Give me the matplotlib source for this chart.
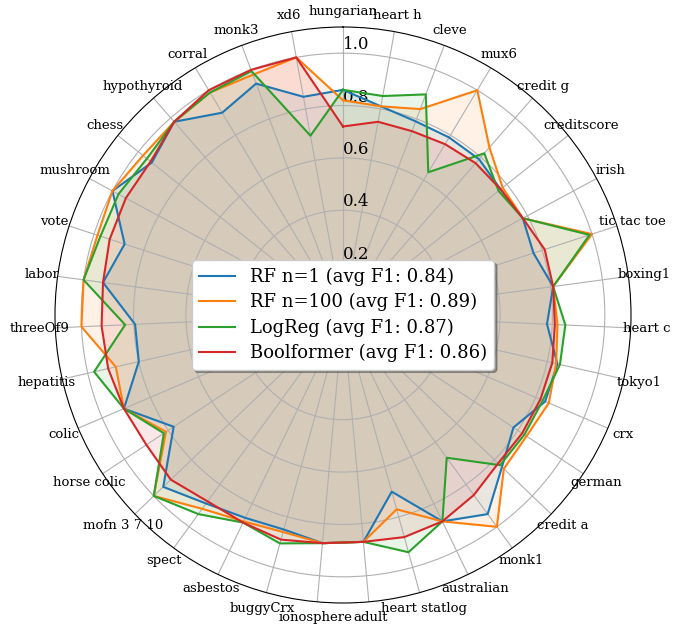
import numpy as np
import matplotlib
matplotlib.use("Agg")
import matplotlib.pyplot as plt

categories = [
    "hungarian", "heart h", "cleve", "mux6", "credit g", "creditscore", "irish",
    "tic tac toe", "boxing1", "heart c", "tokyo1", "crx", "german", "credit a",
    "monk1", "australian", "heart statlog", "adult", "ionosphere", "buggyCrx",
    "asbestos", "spect", "mofn 3 7 10", "horse colic", "colic", "hepatitis",
    "threeOf9", "labor", "vote", "mushroom", "chess", "hypothyroid", "corral",
    "monk3", "xd6",
]

rf1 = [0.86, 0.81, 0.79, 0.79, 0.79, 0.77, 0.78, 0.765, 0.81, 0.78, 0.84, 0.84,
       0.78, 0.84, 0.94, 0.875, 0.70, 0.87, 0.875, 0.85, 0.86, 0.89, 0.95, 0.775,
       0.91, 0.80, 0.795, 0.925, 0.877, 1.0, 0.934, 0.98, 0.90, 0.944, 0.847]
rf100 = [0.82, 0.81, 0.84, 1.0, 0.85, 0.78, 0.78, 1.0, 0.81, 0.82, 0.835, 0.855,
         0.84, 0.85, 1.0, 0.875, 0.77, 0.87, 0.875, 0.86, 0.875, 0.915, 1.0, 0.81,
         0.91, 0.89, 1.0, 1.0, 0.986, 1.0, 0.977, 0.98, 0.99, 0.98, 1.0]
logreg = [0.86, 0.85, 0.90, 0.635, 0.82, 0.76, 0.78, 0.99, 0.81, 0.85, 0.85, 0.83,
          0.83, 0.83, 0.674, 0.875, 0.94, 0.87, 0.875, 0.905, 0.88, 0.94, 1.0, 0.82,
          0.91, 0.975, 0.833, 1.0, 0.974, 0.974, 0.958, 0.98, 0.99, 0.995, 0.696]
boolformer = [0.72, 0.75, 0.75, 0.76, 0.77, 0.77, 0.78, 0.81, 0.81, 0.81, 0.82, 0.82,
              0.82, 0.82, 0.85, 0.875, 0.88, 0.87, 0.875, 0.89, 0.88, 0.88, 0.91, 0.90,
              0.91, 0.92, 0.923, 0.925, 0.937, 0.942, 0.94, 0.98, 1.0, 1.0, 1.0]

series = [
    ("RF n=1 (avg F1: 0.84)", rf1, "tab:blue"),
    ("RF n=100 (avg F1: 0.89)", rf100, "tab:orange"),
    ("LogReg (avg F1: 0.87)", logreg, "tab:green"),
    ("Boolformer (avg F1: 0.86)", boolformer, "tab:red"),
]

rticks = [0.2, 0.4, 0.6, 0.8, 1.0]

plt.rcParams["font.family"] = "DejaVu Serif"

fig = plt.figure(figsize=(6.74, 6.24), dpi=100)
ax = fig.add_axes([55 / 674, 21 / 624, 576 / 674, 576 / 624], polar=True)
ax.set_theta_offset(np.pi / 2)
ax.set_theta_direction(-1)

angles = np.linspace(0, 2 * np.pi, len(categories), endpoint=False)
closed = np.concatenate([angles, angles[:1]])

for label, vals, color in series:
    v = np.concatenate([vals, vals[:1]])
    ax.plot(closed, v, color=color, linewidth=1.5, label=label)
    ax.fill(closed, v, color=color, alpha=0.1)

ax.set_xticks(angles)
ax.set_xticklabels(categories, fontsize=9.5)
ax.tick_params(axis="x", pad=1)
ax.set_ylim(0, 1.1)
ax.set_yticks(rticks)
ax.set_yticklabels([f"{t:.1f}" for t in rticks], fontsize=12)
ax.set_rlabel_position(0)
ax.grid(True, color="#b0b0b0", linewidth=0.8)

ax.legend(loc="center", fontsize=13, labelspacing=0.4, shadow=True, framealpha=1)

fig.savefig("out.png", dpi=100)
